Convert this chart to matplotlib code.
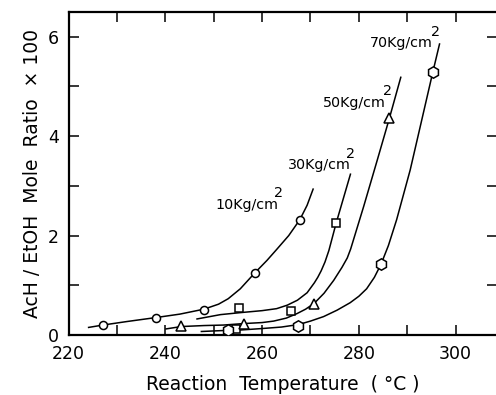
import matplotlib
matplotlib.use("Agg")
import matplotlib.pyplot as plt

# --- measured data points (markers) ---
t10 = [227.1, 238.0, 248.1, 258.5, 267.8]
r10 = [0.20, 0.35, 0.50, 1.25, 2.31]
t30 = [254.7, 255.3, 266.0, 275.3]
r30 = [0.13, 0.54, 0.49, 2.25]
t50 = [243.3, 256.2, 270.8, 286.3]
r50 = [0.19, 0.22, 0.62, 4.36]
t70 = [253.0, 267.5, 284.6, 295.3]
r70 = [0.11, 0.19, 1.43, 5.30]

# --- fitted curves ---
c10_t = [224.0, 227.1, 232.0, 238.0, 243.0, 248.0, 251.0, 253.0, 255.5, 258.5,
         261.0, 263.0, 265.5, 267.8, 269.3, 270.6]
c10_r = [0.15, 0.20, 0.27, 0.35, 0.42, 0.52, 0.62, 0.73, 0.93, 1.25,
         1.50, 1.72, 2.00, 2.32, 2.61, 2.95]
c30_t = [246.4, 251.4, 255.5, 260.0, 263.0, 265.2, 267.3, 269.3, 270.8, 271.5,
         272.2, 273.0, 273.8, 275.3, 276.8, 278.3]
c30_r = [0.32, 0.41, 0.45, 0.49, 0.53, 0.60, 0.70, 0.85, 1.05, 1.16,
         1.29, 1.47, 1.70, 2.25, 2.75, 3.25]
c50_t = [240.0, 243.3, 248.0, 252.0, 256.2, 260.0, 262.4, 265.0, 267.2, 269.0,
         270.8, 272.8, 274.8, 276.5, 277.6, 278.3, 281.0, 283.8, 286.3, 288.7]
c50_r = [0.12, 0.17, 0.19, 0.20, 0.23, 0.25, 0.28, 0.34, 0.43, 0.52,
         0.64, 0.84, 1.10, 1.36, 1.55, 1.73, 2.59, 3.52, 4.36, 5.20]
c70_t = [247.3, 252.0, 255.5, 260.0, 264.0, 267.5, 270.0, 272.7, 275.5, 278.2,
         280.0, 281.6, 283.2, 284.6, 286.1, 287.8, 289.2, 290.6, 293.0, 295.3, 296.7]
c70_r = [0.07, 0.09, 0.10, 0.13, 0.16, 0.21, 0.28, 0.37, 0.50, 0.65,
         0.78, 0.93, 1.16, 1.43, 1.80, 2.32, 2.82, 3.32, 4.33, 5.30, 5.87]

labels = ["10Kg/cm", "30Kg/cm", "50Kg/cm", "70Kg/cm"]
label_x = [250.3, 265.4, 272.6, 282.3]
label_y = [2.62, 3.42, 4.67, 5.87]
sup_x = [262.4, 277.4, 284.9, 294.8]
sup_y = [2.86, 3.65, 4.91, 6.09]

xticks = [220, 240, 260, 280, 300]
yticks = [0, 2, 4, 6]

plt.rcParams['font.family'] = ['DejaVu Sans']
fig = plt.figure(figsize=(4.96, 3.95), dpi=100)
ax = fig.add_axes([68.5 / 496, 60 / 395, (497.3 - 68.5) / 496, (335 - 11.7) / 395])

lw = 1.1
for ct, cr in [(c10_t, c10_r), (c30_t, c30_r), (c50_t, c50_r), (c70_t, c70_r)]:
    ax.plot(ct, cr, color='black', lw=lw, solid_capstyle='butt', zorder=2)

mk = dict(linestyle='none', markerfacecolor='white', markeredgecolor='black',
          markeredgewidth=1.1, zorder=3)
ax.plot(t10, r10, marker='o', markersize=5.8, **mk)
ax.plot(t30, r30, marker='s', markersize=5.8, **mk)
ax.plot(t50, r50, marker='^', markersize=7.0, **mk)
ax.plot(t70, r70, marker='h', markersize=8.2, **mk)

for s, x, y, sx, sy in zip(labels, label_x, label_y, sup_x, sup_y):
    ax.text(x, y, s, fontsize=10.3, ha='left', va='center')
    ax.text(sx, sy, "2", fontsize=10.3, ha='left', va='center')

ax.set_xlim(220, 308.6)
ax.set_ylim(0, 6.505)
ax.set_xticks(range(220, 310, 10), minor=False)
ax.set_xticklabels([str(v) if v in xticks else "" for v in range(220, 310, 10)])
ax.set_yticks(range(0, 7))
ax.set_yticklabels([str(v) if v in yticks else "" for v in range(0, 7)])
ax.tick_params(direction='in', length=7, width=1.1, top=True, right=True,
               labelsize=12.5, pad=7)
for sp in ax.spines.values():
    sp.set_linewidth(1.6)

ax.set_xlabel("Reaction  Temperature  ( °C )", fontsize=13.5, labelpad=9)
ax.set_ylabel("AcH / EtOH  Mole  Ratio  × 100", fontsize=13.5, labelpad=4)

fig.savefig("out.png", dpi=100)
